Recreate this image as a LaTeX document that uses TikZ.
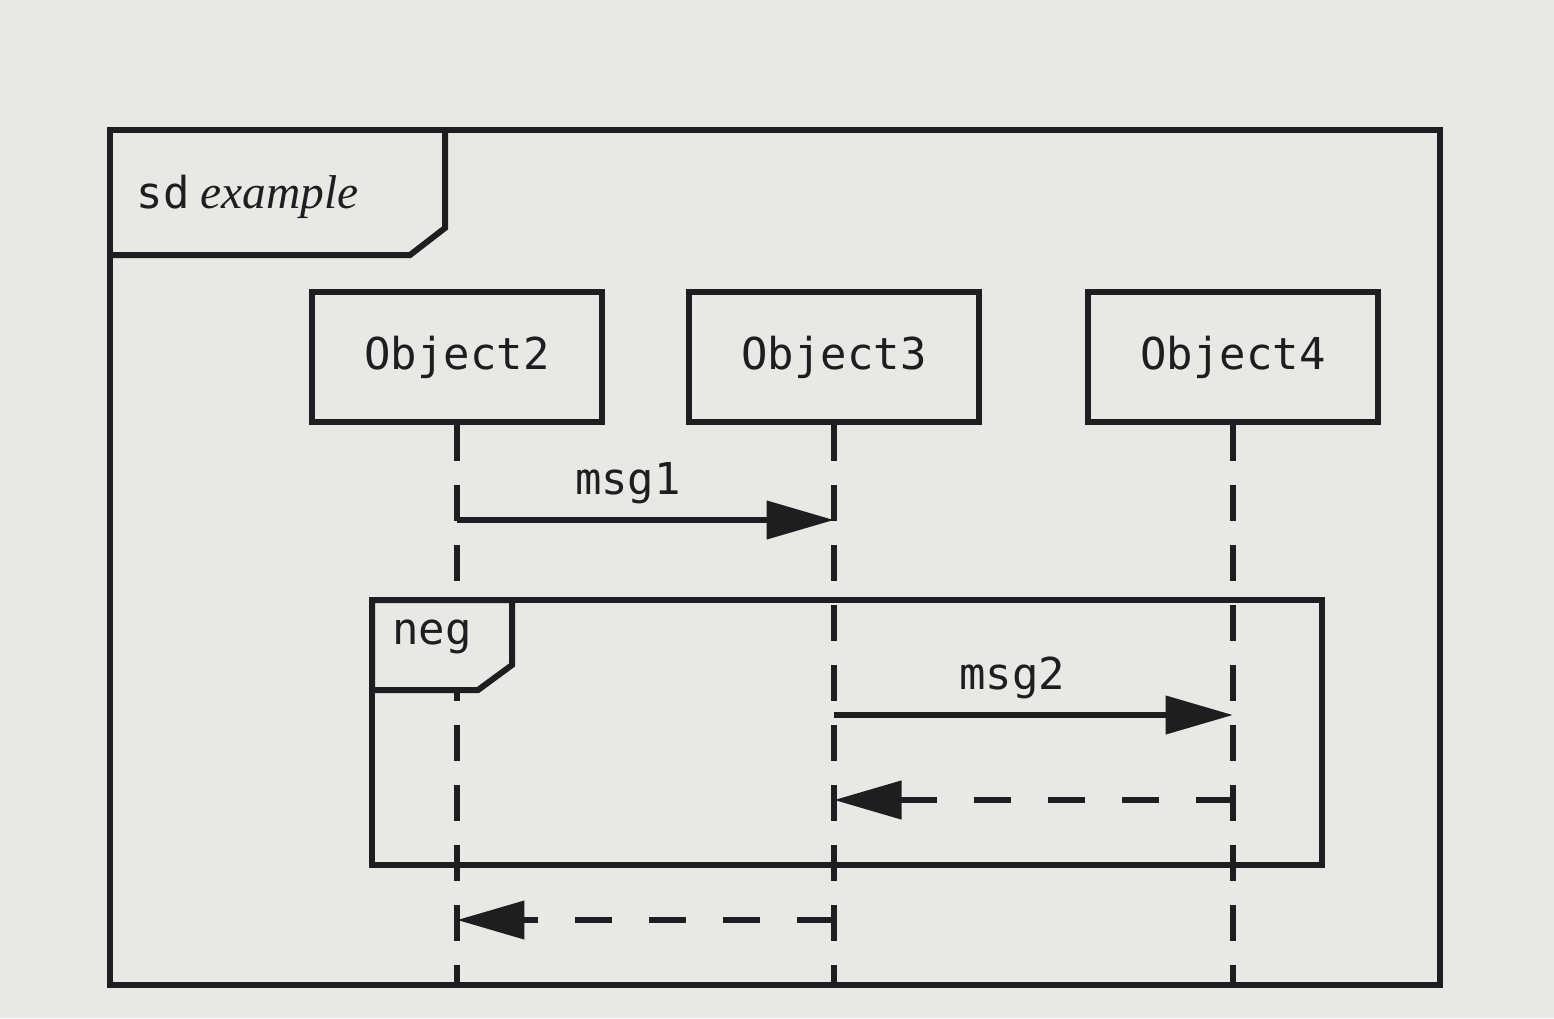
\documentclass[tikz,border=0pt]{standalone}
\usepackage{fontspec}
\setmonofont{DejaVu Sans Mono}
\newfontfamily\tagfont{Liberation Serif}
\usetikzlibrary{arrows.meta}
\definecolor{paper}{RGB}{232,232,228}
\definecolor{ink}{RGB}{30,30,32}
\begin{document}
\begin{tikzpicture}[x=0.02cm, y=-0.02cm, line width=0.12cm, ink,
   every node/.style={font=\ttfamily\fontsize{25}{30}\selectfont, text=ink},
   object/.style={draw, minimum width=5.8cm, minimum height=2.6cm},
   lifeline/.style={dash pattern=on 0.72cm off 0.48cm},
   msg/.style={-{Triangle[length=1.35cm,width=0.75cm]}},
   reply/.style={msg, dash pattern=on 0.74cm off 0.74cm}]
\fill[paper] (0,0) rectangle (1554,1018);
\useasboundingbox (0,0) rectangle (1554,1018);
% outer frame with its name tag
\draw (110,130) rectangle (1440,985);
\draw (110,255) -- (410,255) -- (445,228) -- (445,130);
\node[anchor=west] (sdlabel) at (128,197) {sd\hspace{0.25em}{\tagfont\itshape\fontsize{27}{30}\selectfont example}};
\coordinate (bottom) at (0,985);
% objects and lifelines
\node[object] (obj2) at (457,357) {Object2};
\node[object] (obj3) at (834,357) {Object3};
\node[object] (obj4) at (1233,357) {Object4};
\draw[lifeline] (obj2.south) -- (obj2.south |- bottom);
\draw[lifeline] (obj3.south) -- (obj3.south |- bottom);
\draw[lifeline] (obj4.south) -- (obj4.south |- bottom);
% messages
\coordinate (m1) at (0,520);
\coordinate (m2) at (0,715);
\coordinate (r1) at (0,800);
\coordinate (r2) at (0,920);
\draw[msg] (obj2.south |- m1) -- node[above=4pt, xshift=-10pt] (msg1) {msg1} (obj3.south |- m1);
% neg fragment
\draw (372,600) rectangle (1322,865);
\filldraw[fill=paper] (372,690) -- (478,690) -- (512,665) -- (512,600) -- (372,600) -- cycle;
\node (neglabel) at (432,637) {neg};
\draw[msg] (obj3.south |- m2) -- node[above=4pt, xshift=-12pt] (msg2) {msg2} (obj4.south |- m2);
\draw[reply] (obj4.south |- r1) -- (obj3.south |- r1);
\draw[reply] (obj3.south |- r2) -- (obj2.south |- r2);
\end{tikzpicture}
\end{document}
